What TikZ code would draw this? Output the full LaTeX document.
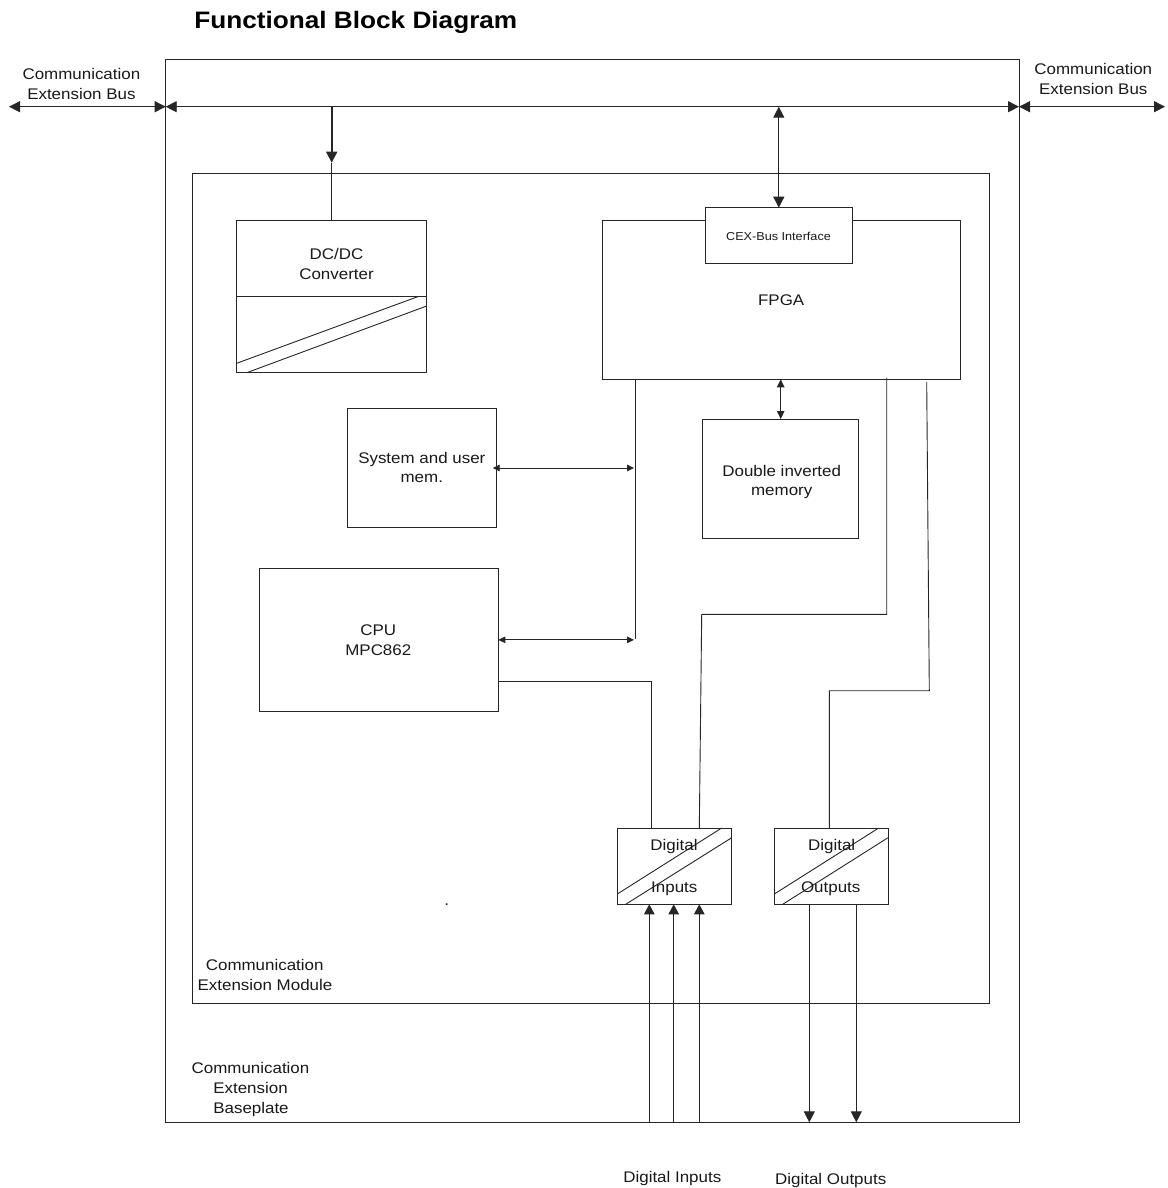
\documentclass[tikz,border=0pt]{standalone}
\usepackage{fontspec}
\setmainfont{Liberation Sans}[FakeStretch=1.1]
\usetikzlibrary{arrows.meta,calc}
\tikzset{
  BigTri/.tip={Triangle[length=11pt,width=11pt]},
  MedTri/.tip={Triangle[length=8pt,width=7.5pt]},
  SmTri/.tip={Triangle[length=7pt,width=6.5pt]},
  InTri/.tip={Triangle[length=10pt,width=10.5pt]},
  ln/.style={line width=0.9pt, draw=black!85},
  box/.style={ln, inner sep=0pt, outer sep=0pt, fill=white},
  txt/.style={font=\fontsize{15.4}{20}\selectfont, text=black!90, inner sep=0pt, anchor=base},
  smalltxt/.style={txt, font=\fontsize{11.5}{14}\selectfont},
  titletxt/.style={txt, text=black, font=\fontsize{23.8}{28}\selectfont\bfseries}
}
\begin{document}
\begin{tikzpicture}[x=1pt,y=-1pt]
\useasboundingbox (0,0) rectangle (1167,1188);

% boxes
\node[box, anchor=north west, minimum width=853.3pt, minimum height=1063pt] (base) at (165.7,59.3) {};
\node[box, anchor=north west, minimum width=796.6pt, minimum height=830pt] (module) at (192.7,173.3) {};
\node[box, anchor=north west, minimum width=190pt, minimum height=152pt] (dcdc) at (236.7,220.7) {};
\node[box, anchor=north west, minimum width=358pt, minimum height=158.6pt] (fpga) at (602.3,220.7) {};
\node[box, anchor=north west, minimum width=147pt, minimum height=55.6pt] (cex) at (705.3,207.7) {};
\node[box, anchor=north west, minimum width=149.4pt, minimum height=119.4pt] (sysmem) at (347.3,408.3) {};
\node[box, anchor=north west, minimum width=239.3pt, minimum height=142.3pt] (cpu) at (259,568.7) {};
\node[box, anchor=north west, minimum width=156pt, minimum height=119.3pt] (dim) at (702.7,419) {};
\node[box, anchor=north west, minimum width=114.4pt, minimum height=76.3pt] (din) at (617.3,828) {};
\node[box, anchor=north west, minimum width=113.7pt, minimum height=76.3pt] (dout) at (774.3,828) {};

% decorations inside boxes
\draw[ln] (236.7,296.7) -- (426.7,296.7);
\draw[ln] (236.7,363.3) -- (417.7,296.7);
\draw[ln] (246.7,372.7) -- (426.7,306);
\draw[ln] (617.3,894) -- (721.7,828);
\draw[ln] (625.7,904.3) -- (731.7,837.7);
\draw[ln] (774.3,894) -- (878.7,828);
\draw[ln] (782.7,904.3) -- (888,837.7);

% coordinates
\coordinate (busL) at (9,106.7);
\coordinate (busR) at (1165,106.7);
\coordinate (dctip) at (331.7,162.7);
\coordinate (vbus) at (635.3,639.3);
\coordinate (cpuo) at (498.3,681);
\coordinate (dinA) at (651.7,828);
\coordinate (f1s) at (886.7,377.7);
\coordinate (f1m) at (701.7,614.3);
\coordinate (dinB) at (699.3,828);
\coordinate (f2s) at (926.7,382);
\coordinate (f2m) at (929.3,690.7);
\coordinate (doutA) at (829.3,828);
\coordinate (inA) at (649.3,1122.3);
\coordinate (inB) at (673.7,1122.3);
\coordinate (inC) at (699.3,1122.3);
\coordinate (outA) at (809.3,1122.3);
\coordinate (outB) at (856.3,1122.3);

% connectors
\draw[ln, BigTri-BigTri] (busL) -- (busL -| base.west);
\draw[ln, BigTri-BigTri] (busL -| base.west) -- (busR -| base.east);
\draw[ln, BigTri-BigTri] (busR -| base.east) -- (busR);
\draw[ln, line width=1.8pt, -BigTri] (dcdc.north |- busL) -- (dctip);
\draw[ln] (dctip) -- (dcdc.north);
\draw[ln, BigTri-BigTri] (cex.north |- busL) -- (cex.north);
\draw[ln, MedTri-MedTri] (dim.north |- fpga.south) -- (dim.north);
\draw[ln] (fpga.south -| vbus) -- (vbus);
\draw[ln, SmTri-SmTri, shorten >=1.3pt, shorten <=-4pt] (sysmem.east) -- (sysmem.east -| vbus);
\draw[ln, SmTri-SmTri, shorten >=1.3pt] (cpu.east) -- (cpu.east -| vbus);
\draw[ln] (cpuo) -| (dinA);
\draw[ln] (f1s) |- (f1m) -- (dinB);
\draw[ln] (f2s) -- (f2m) -| (doutA);
\draw[ln, -InTri] (inA) -- (inA |- din.south);
\draw[ln, -InTri] (inB) -- (inB |- din.south);
\draw[ln, -InTri] (inC) -- (inC |- din.south);
\draw[ln, -BigTri] (outA |- dout.south) -- (outA);
\draw[ln, -BigTri] (outB |- dout.south) -- (outB);

% texts
\node[titletxt] (title) at (355.8,28.3) {Functional Block Diagram};
\node[txt] (lbus1) at (81.4,79.3) {Communication};
\node[txt] (lbus2) at (81.4,99.3) {Extension Bus};
\node[txt] (rbus1) at (1093.3,74.3) {Communication};
\node[txt] (rbus2) at (1093.3,94.3) {Extension Bus};
\node[txt] (dc1) at (336.5,259.3) {DC/DC};
\node[txt] (dc2) at (336.5,279.3) {Converter};
\node[smalltxt] (cext) at (778.5,240) {CEX-Bus Interface};
\node[txt] (fpgat) at (781.2,305) {FPGA};
\node[txt] (sm1) at (421.8,463.3) {System and user};
\node[txt] (sm2) at (421.8,482.7) {mem.};
\node[txt] (cpu1) at (378.3,635) {CPU};
\node[txt] (cpu2) at (378.3,655) {MPC862};
\node[txt] (dim1) at (781.7,476) {Double inverted};
\node[txt] (dim2) at (781.7,495.5) {memory};
\node[txt] (din1) at (674,850.7) {Digital};
\node[txt] (din2) at (674.3,892.3) {Inputs};
\node[txt] (dout1) at (831.7,850.7) {Digital};
\node[txt] (dout2) at (830.7,892.3) {Outputs};
\node[txt] (dotmark) at (446.7,905) {.};
\node[txt] (mod1) at (264.7,970) {Communication};
\node[txt] (mod2) at (265,990) {Extension Module};
\node[txt] (bp1) at (250.5,1073.3) {Communication};
\node[txt] (bp2) at (250.5,1093.3) {Extension};
\node[txt] (bp3) at (251,1113.3) {Baseplate};
\node[txt] (dinl) at (672.3,1182.2) {Digital Inputs};
\node[txt] (doutl) at (830.7,1184.8) {Digital Outputs};
\end{tikzpicture}
\end{document}
